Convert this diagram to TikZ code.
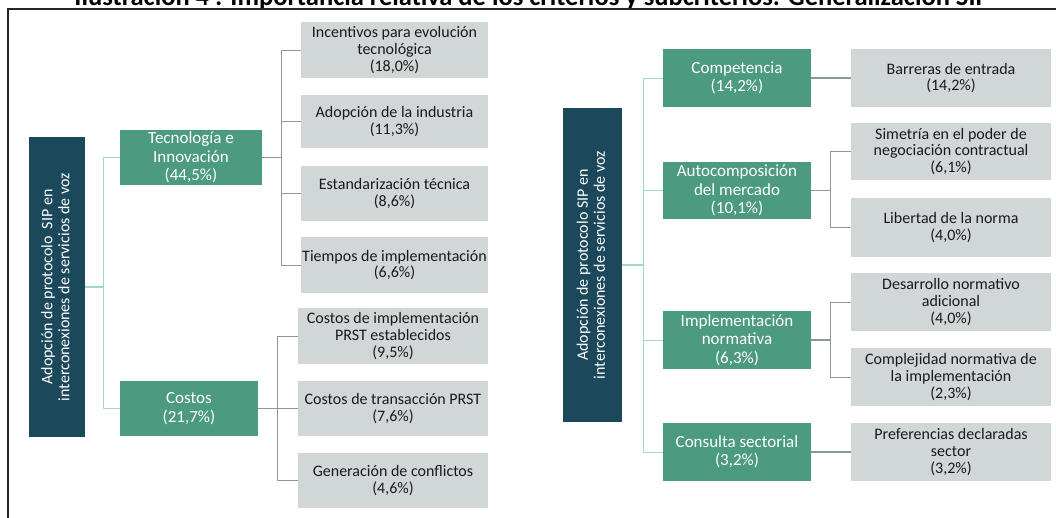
\documentclass[tikz,border=0pt]{standalone}
\usepackage{fontspec}
\setmainfont{Carlito}
\usetikzlibrary{calc}
\definecolor{darkroot}{HTML}{1B495B}
\definecolor{greenbox}{HTML}{4C9B80}
\definecolor{graybox}{HTML}{D1D6D7}
\definecolor{grayline}{HTML}{8A979B}
\definecolor{greenline}{HTML}{A3D9C4}
\definecolor{boxtext}{HTML}{1A1A1A}
\tikzset{
  subbox/.style={fill=graybox, text=boxtext, inner sep=0pt, align=center,
    font=\fontsize{16}{16.8}\selectfont},
  critbox/.style={fill=greenbox, text=white, inner sep=0pt, align=center,
    font=\fontsize{17}{18.5}\selectfont},
  rootbox/.style={fill=darkroot, text=white, inner sep=0pt, minimum width=#1,
    font=\fontsize{16}{19}\selectfont},
  gl/.style={draw=grayline, line width=1pt},
  glthick/.style={draw=grayline, line width=1.8pt},
  grl/.style={draw=greenline, line width=1pt},
  grlthick/.style={draw=greenline, line width=1.8pt},
}
\begin{document}
\begin{tikzpicture}[x=1pt, y=-1pt]
\useasboundingbox (0,0) rectangle (1056,517);
% title (cut by the page edge) and frame
\node[anchor=base, font=\fontsize{26.5}{30}\selectfont\bfseries, text=black] (title) at (532,5.5)
  {Ilustración 4 : Importancia relativa de los criterios y subcriterios. Generalización SIP};
\draw[line width=1.6pt, black!85] (8,520) -- (8,9) -- (1060,9);

% ---------- left tree ----------
\node[rootbox=56pt, minimum height=300pt] (root1) at (57,287)
  {\rotatebox{90}{\begin{tabular}{@{}c@{}}Adopción de protocolo\ \ SIP en\\[-2pt]interconexiones de servicios de voz\end{tabular}}};
\node[critbox, minimum width=142pt, minimum height=55pt] (tec) at (191,157.5) {Tecnología e\\Innovación\\(44,5\%)};
\node[critbox, minimum width=138pt, minimum height=55pt] (cos) at (189,408.5) {Costos\\(21,7\%)};

\node[subbox, minimum width=187pt, minimum height=56pt] (t1) at (394.5,50) {Incentivos para evolución\\tecnológica\\(18,0\%)};
\node[subbox, minimum width=187pt, minimum height=53pt] (t2) at (394.5,121.5) {Adopción de la industria\\(11,3\%)};
\node[subbox, minimum width=187pt, minimum height=55pt] (t3) at (394.5,193.5) {Estandarización técnica\\(8,6\%)};
\node[subbox, minimum width=187pt, minimum height=56pt] (t4) at (394.5,265) {Tiempos de implementación\\(6,6\%)};

\node[subbox, minimum width=190pt, minimum height=56pt] (c1) at (393,336) {Costos de implementación\\PRST establecidos\\(9,5\%)};
\node[subbox, minimum width=190pt, minimum height=55pt] (c2) at (393,408.5) {Costos de transacción PRST\\(7,6\%)};
\node[subbox, minimum width=190pt, minimum height=55pt] (c3) at (393,480.5) {Generación de conflictos\\(4,6\%)};

\coordinate (b1) at (103,0);
\coordinate (b2) at (281,0);
\coordinate (b3) at (277,0);
\draw[grlthick] (root1.east) -- (root1.east -| b1);
\draw[grl] (root1.east -| b1) |- (tec.west);
\draw[grl] (root1.east -| b1) |- (cos.west);

\draw[glthick] (tec.east) -- (tec.east -| b2);
\draw[gl] (tec.east -| b2) |- (t1.west);
\draw[gl] (tec.east -| b2) |- (t2.west);
\draw[gl] (tec.east -| b2) |- (t3.west);
\draw[gl] (tec.east -| b2) |- (t4.west);

\draw[glthick] (cos.east) -- (cos.east -| b3);
\draw[gl] (cos.east -| b3) |- (c1.west);
\draw[gl] (cos.east -| b3) -- (c2.west);
\draw[gl] (cos.east -| b3) |- (c3.west);

% ---------- right tree ----------
\node[rootbox=59pt, minimum height=314pt] (root2) at (592.5,265)
  {\rotatebox{90}{\begin{tabular}{@{}c@{}}Adopción de protocolo SIP en\\[-2pt]interconexiones de servicios de voz\end{tabular}}};
\node[critbox, minimum width=148pt, minimum height=58pt] (comp) at (737,78) {Competencia\\(14,2\%)};
\node[critbox, minimum width=148pt, minimum height=57pt] (auto) at (737,190.5) {Autocomposición\\del mercado\\(10,1\%)};
\node[critbox, minimum width=148pt, minimum height=58pt] (impl) at (737,340) {Implementación\\normativa\\(6,3\%)};
\node[critbox, minimum width=148pt, minimum height=58pt] (cons) at (737,452) {Consulta sectorial\\(3,2\%)};

\node[subbox, minimum width=200pt, minimum height=58pt] (r1) at (951,78) {Barreras de entrada\\(14,2\%)};
\node[subbox, minimum width=200pt, minimum height=57pt] (r2) at (951,151.5) {Simetría en el poder de\\negociación contractual\\(6,1\%)};
\node[subbox, minimum width=200pt, minimum height=59pt] (r3) at (951,227.5) {Libertad de la norma\\(4,0\%)};
\node[subbox, minimum width=200pt, minimum height=58pt] (r4) at (951,302) {Desarrollo normativo\\adicional\\(4,0\%)};
\node[subbox, minimum width=200pt, minimum height=58pt] (r5) at (951,377) {Complejidad normativa de\\la implementación\\(2,3\%)};
\node[subbox, minimum width=200pt, minimum height=58pt] (r6) at (951,452) {Preferencias declaradas\\sector\\(3,2\%)};

\coordinate (b4) at (643,0);
\coordinate (b5) at (830,0);
\draw[grlthick] (root2.east) -- (root2.east -| b4);
\draw[grl] (root2.east -| b4) |- (comp.west);
\draw[grl] (root2.east -| b4) |- (auto.west);
\draw[grl] (root2.east -| b4) |- (impl.west);
\draw[grl] (root2.east -| b4) |- (cons.west);

\draw[glthick] (comp.east) -- (r1.west);
\draw[glthick] (auto.east) -- (auto.east -| b5);
\draw[gl] (auto.east -| b5) |- (r2.west);
\draw[gl] (auto.east -| b5) |- (r3.west);
\draw[glthick] (impl.east) -- (impl.east -| b5);
\draw[gl] (impl.east -| b5) |- (r4.west);
\draw[gl] (impl.east -| b5) |- (r5.west);
\draw[glthick] (cons.east) -- (r6.west);
\end{tikzpicture}
\end{document}
